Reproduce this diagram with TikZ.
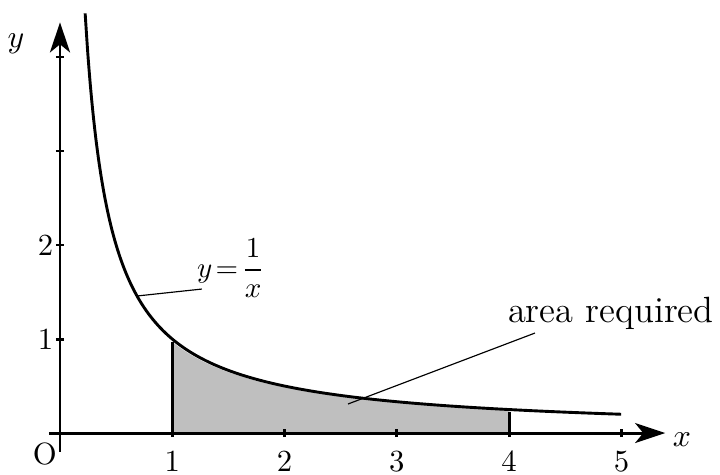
\documentclass[tikz,border=0pt]{standalone}
\usetikzlibrary{arrows.meta}
\begin{document}
\begin{tikzpicture}[x=38.74pt,y=32.43pt,
  axisline/.style={line width=1pt,-{Stealth[length=10.4pt,width=6.9pt,inset=2.8pt]}},
  curveline/.style={line width=1pt},
  edgeline/.style={line width=1pt},
  pointer/.style={line width=0.4pt},
  tick/.style={line width=1pt},
  lbl/.style={inner sep=0pt,font=\fontsize{10.6}{12.7}\selectfont}]
\useasboundingbox (-20.7pt,-14.3pt) rectangle (227.7pt,149.4pt);
% shaded area
\fill[black!25] (1,0) -- plot[domain=1:4,samples=60] (\x,{0.97/\x}) -- (4,0) -- cycle;
\coordinate (a1) at (1,0);
\coordinate (a1t) at (1,0.97);
\coordinate (a4) at (4,0);
\coordinate (a4t) at (4,0.225);
\draw[edgeline] (a1) -- (a1t);
\draw[edgeline] (a4) -- (a4t);
% axes
\coordinate (xs) at (-0.1,0);
\coordinate (xe) at (5.39,0);
\coordinate (ys) at (0,-0.2);
\coordinate (ye) at (0,4.37);
\draw[axisline] (xs) -- (xe);
\draw[axisline] (ys) -- (ye);
% ticks
\foreach \i in {1,...,5} \draw[tick] (\i,-1.4pt) -- (\i,1.4pt);
\foreach \i in {1,...,4} \draw[tick] (-1.4pt,\i) -- (1.4pt,\i);
% tick labels
\foreach \i in {1,...,5} \node[lbl,anchor=north] (xl\i) at ([yshift=-6.0pt]\i,0) {\i};
\foreach \i in {1,2} \node[lbl,anchor=east] (yl\i) at ([xshift=-2.1pt]0,\i) {\i};
\node[lbl] (o) at (-5.2pt,-7.1pt) {O};
\node[lbl] (xlab) at (214.6pt,-2.4pt) {$x$};
\node[lbl] (ylab) at (-15.2pt,134.2pt) {$y$};
% curve
\draw[curveline] plot[domain=0.224:5,samples=200,smooth] (\x,{1/\x});
% labels
\node[inner sep=0pt] (eq) at (1.523,1.755) {$\displaystyle y\!=\!\frac{1}{x}$};
\node[inner sep=0pt,font=\fontsize{12.6}{15}\selectfont] (area) at (4.906,1.277) {area required};
\coordinate (p1a) at (0.686,1.458);
\coordinate (p1b) at (1.264,1.532);
\coordinate (p2a) at (4.23,1.064);
\coordinate (p2b) at (2.565,0.309);
\draw[pointer] (p1a) -- (p1b);
\draw[pointer] (p2a) -- (p2b);
\end{tikzpicture}
\end{document}
